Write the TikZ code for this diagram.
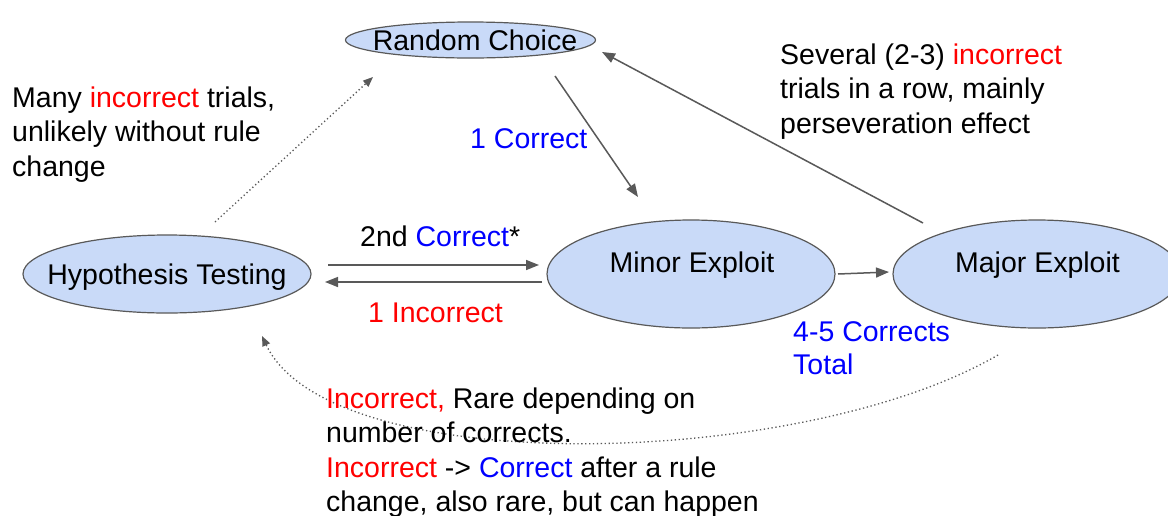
\documentclass[tikz,border=0pt]{standalone}
\usepackage{fontspec}
\setmainfont{Liberation Sans}
\usetikzlibrary{shapes.geometric,arrows.meta,calc}
\definecolor{stateblue}{HTML}{C9DAF8}
\definecolor{linegray}{HTML}{595959}
\definecolor{txtred}{HTML}{FF0000}
\definecolor{txtblue}{HTML}{0000FF}
\begin{document}
\begin{tikzpicture}[x=1pt,y=-1pt,
  state/.style={ellipse, draw=linegray, line width=1.2pt, fill=stateblue, inner sep=0pt},
  plaintext/.style={font=\fontsize{28.5}{34.5}\selectfont, inner sep=0pt, align=left},
  statetext/.style={plaintext, anchor=base},
  lbl/.style={plaintext, anchor=base west},
  conn/.style={draw=linegray, line width=1.5pt, -{Triangle[length=13pt,width=10pt]}},
  dotconn/.style={draw=linegray, line width=1.3pt, dash pattern=on 1.3pt off 2.6pt,
    -{Triangle[length=10pt,width=8pt]}}]
\useasboundingbox (0,0) rectangle (1168,515);
\clip (0,0) rectangle (1168,515);
\fill[white] (0,0) rectangle (1168,515);

% states
\node[state, minimum width=250pt, minimum height=36pt] (rc) at (470.5,40) {};
\node[statetext] (rctext) at (475,50) {Random Choice};
\node[state, minimum width=288pt, minimum height=78pt] (hyp) at (167,274) {};
\node[statetext] (hyptext) at (167,284) {Hypothesis Testing};
\node[state, minimum width=288pt, minimum height=108pt] (minor) at (691,274) {};
\node[statetext] (minortext) at (692,272) {Minor Exploit};
\node[state, minimum width=288pt, minimum height=108pt] (major) at (1037,274) {};
\node[statetext] (majortext) at (1037.5,272) {Major Exploit};

% transitions
\draw[conn] ($(rc.center)+(84.5,36)$) -- ($(minor.center)+(-53,-77)$);
\draw[conn] ($(major.center)+(-114,-51)$) -- ($(rc.center)+(131.5,12)$);
\draw[conn] ($(hyp.center)+(161,-9)$) -- ($(minor.center)+(-152,-9)$);
\draw[conn] ($(minor.center)+(-149,8)$) -- ($(hyp.center)+(158,8)$);
\draw[conn] ($(minor.center)+(147,0)$) -- ($(major.center)+(-148,-2)$);
\draw[dotconn] ($(hyp.center)+(48,-52)$) -- ($(rc.center)+(-97.5,37)$);
\draw[dotconn] ($(major.center)+(-39,81)$)
  .. controls (800,470) and (330,480) .. ($(hyp.center)+(95,62)$);

% annotations (a multi-line node sits on the baseline of its last line)
\node[lbl] (many) at (12,176)
  {Many \textcolor{txtred}{incorrect} trials,\\unlikely without rule\\change};
\node[lbl] (several) at (780,133)
  {Several (2-3) \textcolor{txtred}{incorrect}\\trials in a row, mainly\\perseveration effect};
\node[lbl, text=txtblue] (onecorrect) at (470,148) {1 Correct};
\node[lbl] (second) at (360,246) {2nd \textcolor{txtblue}{Correct}*};
\node[lbl, text=txtred] (oneincorrect) at (368,322) {1 Incorrect};
\node[lbl, text=txtblue, font=\fontsize{28.5}{33}\selectfont] (total) at (793,374)
  {4-5 Corrects\\Total};
\node[lbl] (rare) at (326,511.5)
  {\textcolor{txtred}{Incorrect,} Rare depending on\\number of corrects.\\
   \textcolor{txtred}{Incorrect} -> \textcolor{txtblue}{Correct} after a rule\\
   change, also rare, but can happen};
\end{tikzpicture}
\end{document}
